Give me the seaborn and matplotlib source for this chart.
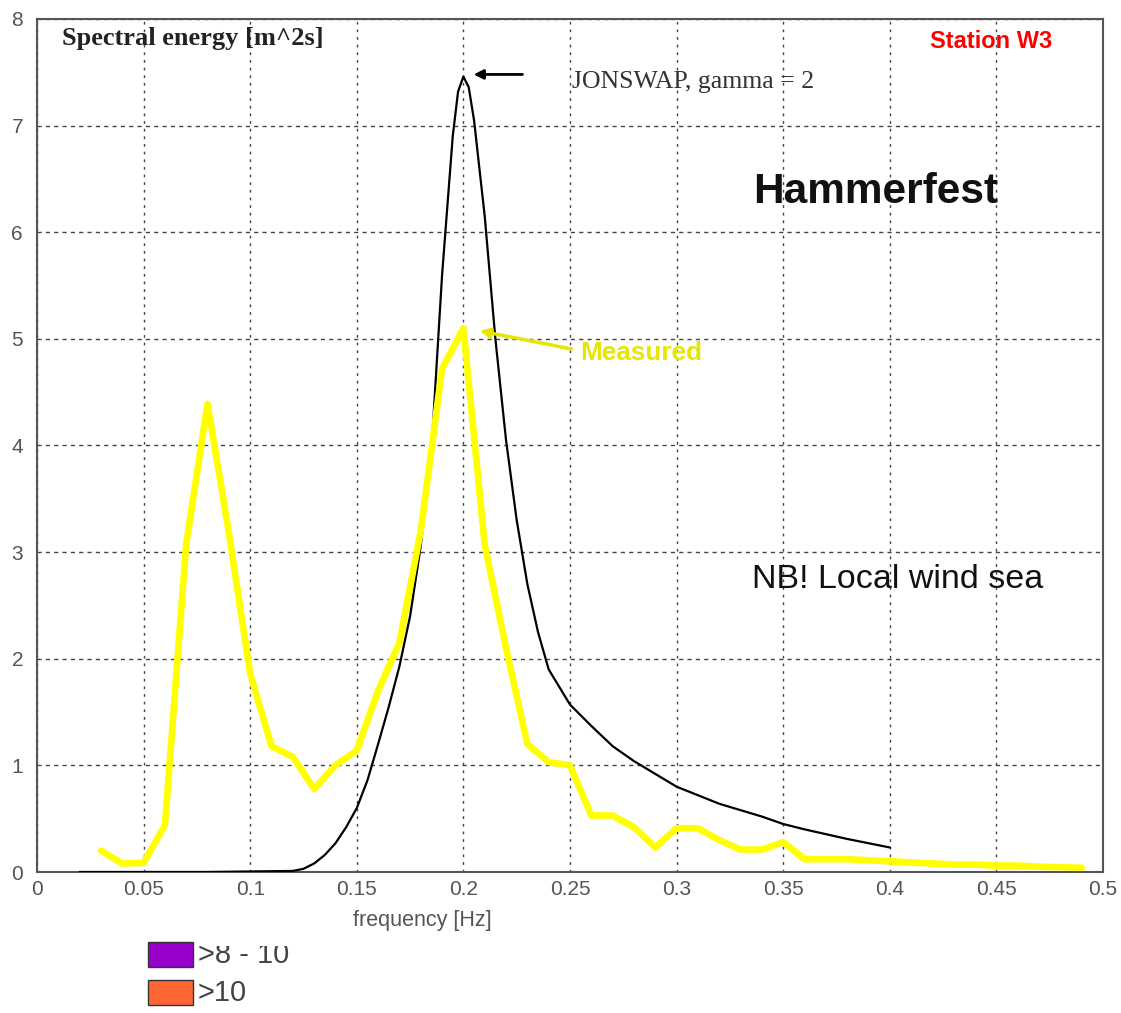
import numpy as np
import pandas as pd
import seaborn as sns
import matplotlib.pyplot as plt
from matplotlib.patches import Rectangle

# Measured spectrum (yellow)
freq_meas = [0.03, 0.04, 0.05, 0.06, 0.07, 0.08, 0.09, 0.10, 0.11, 0.12,
             0.13, 0.14, 0.15, 0.16, 0.17, 0.18, 0.19, 0.20, 0.21, 0.22,
             0.23, 0.24, 0.25, 0.26, 0.27, 0.28, 0.29, 0.30, 0.31, 0.32,
             0.33, 0.34, 0.35, 0.36, 0.37, 0.38, 0.39, 0.40, 0.41, 0.42,
             0.43, 0.44, 0.45, 0.46, 0.47, 0.48, 0.49]
s_meas = [0.20, 0.08, 0.085, 0.44, 3.08, 4.39, 3.18, 1.86, 1.18, 1.08,
          0.78, 1.0, 1.14, 1.70, 2.15, 3.2, 4.72, 5.1, 3.07, 2.1,
          1.2, 1.03, 1.0, 0.53, 0.53, 0.42, 0.23, 0.41, 0.41, 0.30,
          0.21, 0.21, 0.28, 0.12, 0.12, 0.12, 0.11, 0.10, 0.09, 0.08,
          0.07, 0.07, 0.06, 0.06, 0.05, 0.045, 0.04]

# JONSWAP gamma = 2 (black)
freq_jon = [0.02, 0.08, 0.12, 0.125, 0.13, 0.135, 0.14, 0.145, 0.15, 0.155,
            0.16, 0.165, 0.17, 0.175, 0.18, 0.185, 0.19, 0.195, 0.1975, 0.20,
            0.2025, 0.205, 0.21, 0.215, 0.22, 0.225, 0.23, 0.235, 0.24, 0.25,
            0.26, 0.27, 0.28, 0.29, 0.30, 0.32, 0.34, 0.35, 0.36, 0.38, 0.40]
s_jon = [0.0, 0.0, 0.01, 0.03, 0.08, 0.16, 0.27, 0.42, 0.60, 0.86,
         1.20, 1.55, 1.93, 2.40, 3.06, 3.95, 5.60, 6.90, 7.32, 7.46,
         7.36, 7.05, 6.15, 5.0, 4.05, 3.3, 2.7, 2.25, 1.9, 1.57,
         1.37, 1.18, 1.04, 0.92, 0.80, 0.64, 0.52, 0.45, 0.40, 0.31, 0.23]

x_ticks = [0, 0.05, 0.1, 0.15, 0.2, 0.25, 0.3, 0.35, 0.4, 0.45, 0.5]
x_labels = ["0", "0.05", "0.1", "0.15", "0.2", "0.25", "0.3", "0.35", "0.4", "0.45", "0.5"]
y_ticks = [0, 1, 2, 3, 4, 5, 6, 7, 8]

legend_labels = [">8 - 10", ">10"]
legend_colors = ["#9900cc", "#ff6633"]

df_meas = pd.DataFrame({"f": freq_meas, "S": s_meas})
df_jon = pd.DataFrame({"f": freq_jon, "S": s_jon})

sns.set_style("white")
plt.rcParams['font.family'] = ['Liberation Sans', 'DejaVu Sans']

W, H = 1121, 1013
fig = plt.figure(figsize=(W / 100, H / 100), dpi=100)
ax = fig.add_axes([37 / W, 1 - 872 / H, (1103 - 37) / W, (872 - 19) / H])

sns.lineplot(data=df_jon, x="f", y="S", ax=ax, color="black", linewidth=1.6, zorder=3)
sns.lineplot(data=df_meas, x="f", y="S", ax=ax, color="#ffff00", linewidth=4.8, zorder=4)

ax.set_xlim(0, 0.5)
ax.set_ylim(0, 8)
ax.set_xticks(x_ticks)
ax.set_xticklabels(x_labels)
ax.set_yticks(y_ticks)
ax.tick_params(axis="both", length=0, labelsize=15, labelcolor="#555555", pad=6)
ax.tick_params(axis="y", pad=10)
ax.set_xlabel("")
ax.set_ylabel("")

# grilles pointillées facon matlab
ax.grid(True, axis="x", color="#444444", linestyle=(0, (2, 3.5)), linewidth=1.0)
ax.grid(True, axis="y", color="#444444", linestyle=(0, (3, 3)), linewidth=1.0)
for sp in ax.spines.values():
    sp.set_color("#555555")
    sp.set_linewidth(1.5)

# textes
ax.text(0.0117, 7.82, "Spectral energy [m^2s]", family="Liberation Serif",
        fontweight="bold", fontsize=19, va="center", ha="left", color="#222222")
ax.text(0.251, 7.41, "JONSWAP, gamma = 2", family="Liberation Serif",
        fontsize=18.5, va="center", ha="left", color="#333333")
ax.annotate("", xy=(0.2035, 7.48), xytext=(0.229, 7.48),
            arrowprops=dict(arrowstyle="-|>", color="black", lw=2, mutation_scale=14))
ax.text(0.419, 7.79, "Station W3", family="Liberation Sans", fontweight="bold",
        fontsize=17, color="red", va="center", ha="left")
ax.text(0.336, 6.38, "Hammerfest", family="Liberation Sans", fontweight="bold",
        fontsize=30.5, color="#111111", va="center", ha="left")
ax.text(0.3354, 2.74, "NB! Local wind sea", family="Liberation Sans",
        fontsize=24.5, color="#111111", va="center", ha="left")
ax.text(0.2547, 4.87, "Measured", family="Liberation Sans", fontweight="bold",
        fontsize=18.8, color="#e6e600", va="center", ha="left")
ax.annotate("", xy=(0.2064, 5.08), xytext=(0.252, 4.9),
            arrowprops=dict(arrowstyle="-|>", color="#e6e600", lw=2.5, mutation_scale=14))

fig.text(422 / W, 1 - 920 / H, "frequency [Hz]", fontsize=15.5, color="#555555",
         ha="center", va="center")

# légende collée en bas (coupée en haut comme sur l'original)
for i, (lab, col) in enumerate(zip(legend_labels, legend_colors)):
    y0 = [942, 980][i]
    fig.patches.append(Rectangle((148 / W, 1 - (y0 + 25) / H), 45 / W, 25 / H,
                                 transform=fig.transFigure, facecolor=col,
                                 edgecolor="#333333", linewidth=1))
    fig.text(198 / W, 1 - (y0 + 13) / H, lab, fontsize=21, color="#444444",
             ha="left", va="center")
fig.patches.append(Rectangle((196 / W, 1 - 946 / H), 130 / W, 12 / H,
                             transform=fig.transFigure, facecolor="white",
                             edgecolor="none", zorder=10))

fig.savefig("out.png", dpi=100, facecolor="white")
